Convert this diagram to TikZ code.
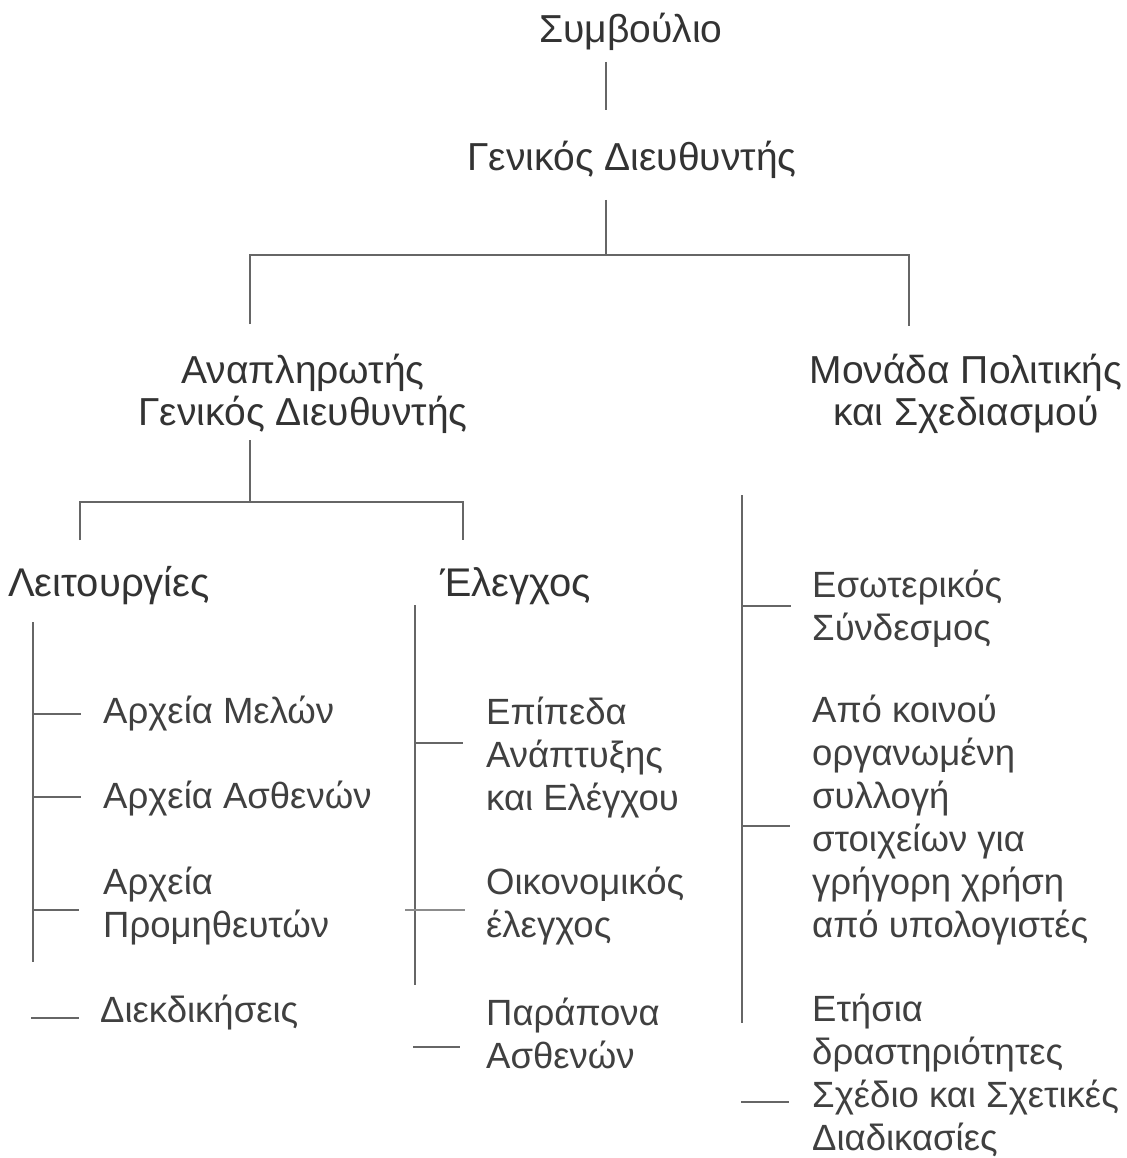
\documentclass[tikz,border=0pt]{standalone}
\usepackage{fontspec}
\setmainfont{Liberation Sans}
\begin{document}
\begin{tikzpicture}[x=1pt,y=-1pt,
  txt/.style={inner sep=0pt,text=black!75,font=\fontsize{36.5}{43}\selectfont,align=left},
  sub/.style={inner sep=0pt,text=black!80,font=\fontsize{40}{43}\selectfont,align=left},
  head/.style={inner sep=0pt,text=black!80,font=\fontsize{39}{42}\selectfont,align=center},
  conn/.style={draw=black!60,line width=1.6pt}]
\useasboundingbox[fill=white] (0,0) rectangle (1126,1158);
% top levels
\node[head] (symv) at (631,32) {Συμβούλιο};
\node[head] (gd) at (632,160) {Γενικός Διευθυντής};
\node[head] (anap) at (303,394) {Αναπληρωτής\\Γενικός Διευθυντής};
\node[head] (mon) at (966,394) {Μονάδα Πολιτικής\\και Σχεδιασμού};
\node[sub,anchor=west] (leit) at (8,586) {Λειτουργίες};
\node[sub,anchor=west] (eleg) at (440,586) {Έλεγχος};
% connector points
\coordinate (s1) at (606,62);
\coordinate (s2) at (606,110);
\coordinate (g1) at (606,200);
\coordinate (g2) at (606,255);
\coordinate (hl) at (250,255);
\coordinate (hr) at (909,255);
\coordinate (al) at (250,324);
\coordinate (ar) at (909,326);
\coordinate (a1) at (250,440);
\coordinate (a2) at (250,502);
\coordinate (bl) at (80,502);
\coordinate (br) at (463,502);
\coordinate (bl2) at (80,540);
\coordinate (br2) at (463,540);
\draw[conn] (s1) -- (s2);
\draw[conn] (g1) -- (g2);
\draw[conn] (al) -- (hl) -- (hr) -- (ar);
\draw[conn] (a1) -- (a2);
\draw[conn] (bl2) -- (bl) -- (br) -- (br2);
% Leitourgies column
\node[txt,anchor=west] (m1) at (103,714) {Αρχεία Μελών};
\node[txt,anchor=west] (m2) at (103,799) {Αρχεία Ασθενών};
\node[txt,anchor=west] (m3) at (103,906) {Αρχεία\\Προμηθευτών};
\node[txt,anchor=west] (m4) at (100,1013) {Διεκδικήσεις};
\coordinate (lt) at (33,622);
\coordinate (lb) at (33,962);
\draw[conn] (lt) -- (lb);
\draw[conn] (33,714) -- (81,714);
\draw[conn] (33,797) -- (81,797);
\draw[conn] (33,910) -- (79,910);
\coordinate (l4a) at (31,1018);
\coordinate (l4b) at (79,1018);
\draw[conn] (l4a) -- (l4b);
% Elegxos column
\node[txt,anchor=west] (e1) at (486,758) {Επίπεδα\\Ανάπτυξης\\και Ελέγχου};
\node[txt,anchor=west] (e2) at (486,906) {Οικονομικός\\έλεγχος};
\node[txt,anchor=west] (e3) at (486,1033) {Παράπονα\\Ασθενών};
\coordinate (mt) at (415,605);
\coordinate (mb) at (415,985);
\draw[conn] (mt) -- (mb);
\draw[conn] (415,743) -- (463,743);
\draw[conn,draw=black!45,line width=2.4pt] (405,910) -- (465,910);
\coordinate (e3a) at (413,1047);
\coordinate (e3b) at (460,1047);
\draw[conn] (e3a) -- (e3b);
% Monada column
\node[txt,anchor=west] (r1) at (812,609) {Εσωτερικός\\Σύνδεσμος};
\node[txt,anchor=west] (r2) at (812,820) {Από κοινού\\οργανωμένη\\συλλογή\\στοιχείων για\\γρήγορη χρήση\\από υπολογιστές};
\node[txt,anchor=west] (r3) at (812,1075) {Ετήσια\\δραστηριότητες\\Σχέδιο και Σχετικές\\Διαδικασίες};
\coordinate (rt) at (742,495);
\coordinate (rb) at (742,1023);
\draw[conn] (rt) -- (rb);
\draw[conn] (742,606) -- (791,606);
\draw[conn] (742,826) -- (790,826);
\coordinate (r3a) at (741,1102);
\coordinate (r3b) at (789,1102);
\draw[conn] (r3a) -- (r3b);
\end{tikzpicture}
\end{document}
